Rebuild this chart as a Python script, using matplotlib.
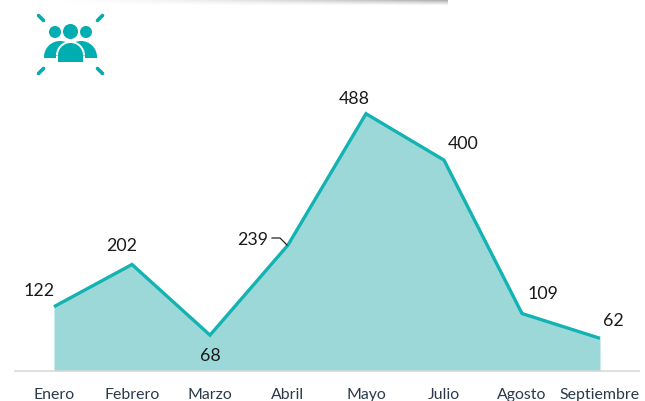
import numpy as np
import matplotlib
matplotlib.use('Agg')
import matplotlib.pyplot as plt
from matplotlib.patches import Circle, Wedge, Rectangle

months = ['Enero', 'Febrero', 'Marzo', 'Abril', 'Mayo', 'Julio', 'Agosto', 'Septiembre']
values = [122, 202, 68, 239, 488, 400, 109, 62]

TEAL = '#14B3B3'
FILL = '#9DD8D9'
ICON = '#00ADB0'

plt.rcParams['font.family'] = ['Lato', 'DejaVu Sans']

W, H = 645, 401
fig = plt.figure(figsize=(W / 100, H / 100), dpi=100)

# chart area, baseline sits at y=371 px
ax = fig.add_axes([15 / W, (H - 371) / H, 624 / W, 271 / H])
x = np.arange(len(months))
ax.fill_between(x, values, 0, color=FILL, lw=0)
ax.plot(x, values, color=TEAL, lw=2.4, solid_joinstyle='miter', solid_capstyle='butt', clip_on=False)
ax.set_xlim(-0.5, 7.5)
ax.set_ylim(0, 514)
ax.patch.set_alpha(0)

for s in ['top', 'left', 'right']:
    ax.spines[s].set_visible(False)
ax.spines['bottom'].set_color('#D9D9D9')
ax.spines['bottom'].set_linewidth(1.2)
ax.set_yticks([])
ax.set_xticks(x)
ax.set_xticklabels(months, fontsize=11.4, color='#2B3A4A')
ax.tick_params(axis='x', length=0, pad=12)

# value labels, offsets in pixels from each point
offsets = [(-15, 16), (-10, 18), (0, -21), (-35, 5), (-12, 15), (19, 16), (21, 20), (13, 17)]
for xi, v, off in zip(x, values, offsets):
    ax.annotate(str(v), (xi, v), xytext=(off[0] * 0.72, off[1] * 0.72), textcoords='offset points',
                ha='center', va='center', fontsize=12.8, color='#1A1A1A')

# overlay in pixel coordinates for leader line, icon and top shadow
ov = fig.add_axes([0, 0, 1, 1], zorder=5)
ov.patch.set_alpha(0)

ov.plot([272, 280, 287], [238, 238, 245], color='#222222', lw=0.9)

# top shadow
grad_x = np.linspace(0, 1, 400) ** 1.6
grad_y = np.linspace(1, 0, 7)[:, None] ** 1.3
rgba = np.zeros((7, 400, 4))
rgba[..., :3] = 0.6
rgba[..., 3] = grad_x[None, :] * grad_y * 0.8
ov.imshow(rgba, extent=(40, 448, 6, 0), aspect='auto', interpolation='bilinear')
ov.set_xlim(0, W)
ov.set_ylim(H, 0)
ov.axis('off')

# people icon
for cx, cy, r in [(55, 32, 6), (70.5, 31.5, 7.5), (86, 32, 6)]:
    ov.add_patch(Circle((cx, cy), r, color=ICON, lw=0))
for cx in (60, 81):
    ov.add_patch(Wedge((cx, 57), 16, 180, 360, color=ICON, lw=0, zorder=2))
ov.add_patch(Rectangle((44, 57), 53, 1.2, color=ICON, lw=0, zorder=2))
# white halo behind the middle person
ov.add_patch(Wedge((70.5, 55.5), 14.5, 180, 360, color='white', lw=0, zorder=3))
ov.add_patch(Rectangle((56, 55.5), 29, 8, color='white', lw=0, zorder=3))
ov.add_patch(Wedge((70.5, 55.5), 12.5, 180, 360, color=ICON, lw=0, zorder=4))
ov.add_patch(Rectangle((58, 55.4), 25, 7.1, color=ICON, lw=0, zorder=4))
for x0, y0, x1, y1 in [(38.5, 15.5, 43.5, 20.5), (102.5, 15.5, 97.5, 20.5),
                       (38.5, 73.5, 43.5, 68.5), (102.5, 73.5, 97.5, 68.5)]:
    ov.plot([x0, x1], [y0, y1], color=ICON, lw=2.6, solid_capstyle='round')

fig.savefig('out.png', dpi=100)
